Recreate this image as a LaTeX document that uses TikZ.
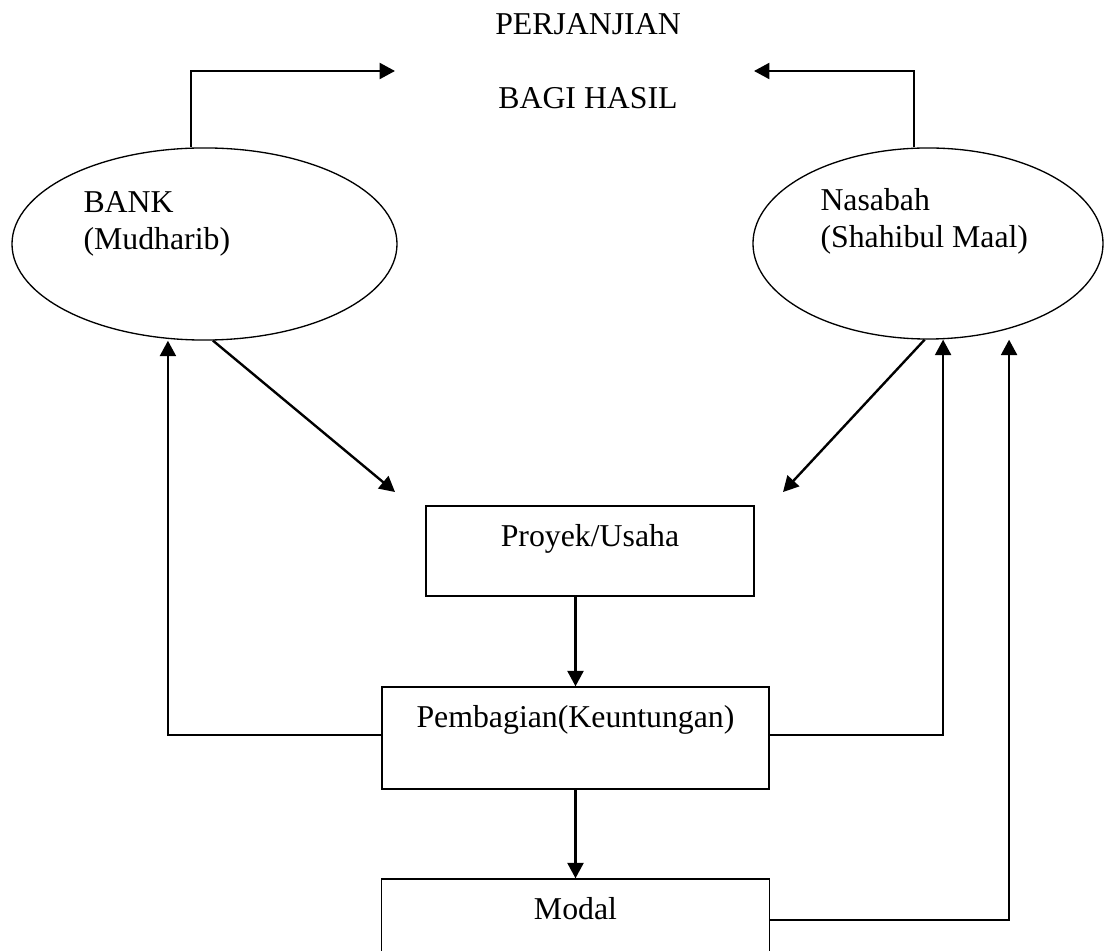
\documentclass[tikz,border=0pt]{standalone}
\usepackage{fontspec}
\setmainfont{Liberation Serif}
\usetikzlibrary{shapes.geometric,arrows.meta}
\tikzset{
    partynode/.style={
        ellipse, draw, inner sep=0pt,
        line width=0.5pt
    },
    boxnode/.style={
        rectangle, draw, inner sep=0pt,
        line width=0.5pt, text height=15.1pt
    },
    flow/.style={
        line width=0.9pt, -{Triangle[length=5.8pt,width=6pt]}
    }
}

\begin{document}
\begin{tikzpicture}[x=0.3774pt, y=-0.3774pt,
    every node/.style={font=\fontsize{12}{14}\selectfont}]
    \useasboundingbox (0,0) rectangle (1104,951);
    % Title
    \node[anchor=base] (perjanjian) at (588,35) {PERJANJIAN};
    \node[anchor=base] (bagihasil) at (588,109) {BAGI HASIL};
    \coordinate (leftin) at (395,71);
    \coordinate (rightin) at (754,71);
    % Parties
    \node[partynode, minimum width=145.3pt, minimum height=72.5pt] (bank) at (204.5,244) {};
    \node[partynode, minimum width=132.1pt, minimum height=72.1pt] (nasabah) at (928,243.5) {};
    \node[anchor=base west, align=left, inner sep=0pt] (banktext) at (83,250) {BANK\\(Mudharib)};
    \node[anchor=base west, align=left, inner sep=0pt] (nasabahtext) at (820,248) {Nasabah\\(Shahibul Maal)};
    % Boxes
    \node[boxnode, anchor=base, minimum width=123.8pt, text height=15.5pt, text depth=18.5pt]
        (proyek) at (590,547) {Proyek/Usaha};
    \node[boxnode, anchor=base, minimum width=146.1pt, text depth=23.4pt]
        (pembagian) at (575.5,727) {Pembagian(Keuntungan)};
    \node[boxnode, anchor=base, minimum width=146.4pt, text depth=15.9pt]
        (modal) at (575.5,919) {Modal};
    \coordinate (projleft) at (395,492);
    \coordinate (projright) at (783,492);
    % Agreement
    \draw[flow] ([xshift=-5.1pt]bank.north) |- (leftin);
    \draw[flow] ([xshift=-5.3pt]nasabah.north) |- (rightin);
    % Capital into the project
    \draw[flow] (bank.-85) -- (projleft);
    \draw[flow] (nasabah.-92) -- (projright);
    \draw[flow] (proyek.south -| pembagian.north) -- (pembagian.north);
    \draw[flow] (pembagian.south) -- (modal.north);
    % Returns
    \draw[flow] ([yshift=1.1pt]pembagian.west) -| ([xshift=-13.8pt]bank.south);
    \draw[flow] ([yshift=1.1pt]pembagian.east) -| ([xshift=5.7pt]nasabah.south);
    \draw[flow] (modal.east) -| ([xshift=30.6pt]nasabah.south);
\end{tikzpicture}
\end{document}
